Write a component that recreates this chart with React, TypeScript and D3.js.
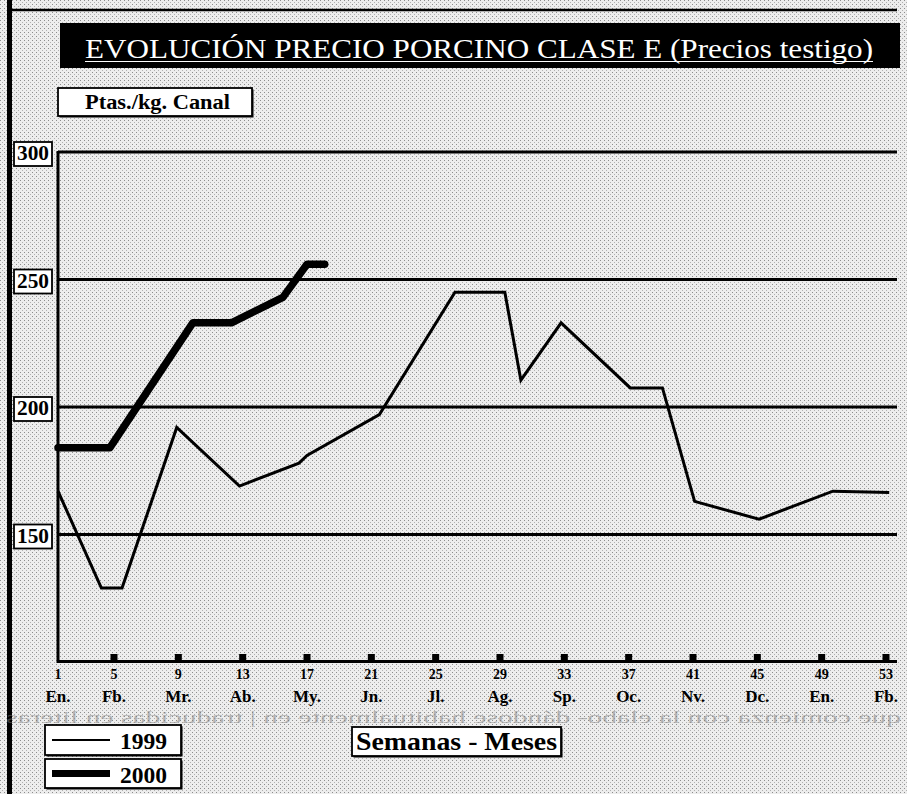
import * as d3 from "d3";
import { useEffect, useRef } from "react";

// semanas de referencia y meses del eje x
const weekTicks: number[] = [1, 5, 9, 13, 17, 21, 25, 29, 33, 37, 41, 45, 49, 53];
const monthLabels: string[] = ["En.", "Fb.", "Mr.", "Ab.", "My.", "Jn.", "Jl.", "Ag.", "Sp.", "Oc.", "Nv.", "Dc.", "En.", "Fb."];
const yTicks: number[] = [150, 200, 250, 300];

// 1999: [semana, ptas/kg]
const weeks1999: number[] = [1, 4.1, 5.5, 8.9, 12.8, 16.5, 17, 21.5, 26.2, 29.3, 30.3, 32.8, 37.1, 39.1, 41.1, 45.1, 49.7, 53.2];
const prices1999: number[] = [167, 129, 129, 192, 169, 178, 181, 197, 245, 245, 210.5, 233, 207.5, 207.5, 163, 156, 167, 166.5];

// 2000
const weeks2000: number[] = [1, 4.7, 9.9, 12.3, 15.5, 17, 18.1];
const prices2000: number[] = [184, 184, 233, 233, 243, 256, 256];

const title = "EVOLUCIÓN PRECIO PORCINO CLASE E (Precios testigo)";
const bleedText = "que comienza con la elabo-      dándose habitualmente en  |  traducidas  en  literas";

export default function App() {
  const width = 907;
  const height = 794;
  const svgRef = useRef<SVGSVGElement>(null);

  useEffect(() => {
    const svg = d3.select(svgRef.current);
    svg.selectAll("*").remove();

    const x = d3.scaleLinear([1, 5, 53], [58, 114, 886]);
    const y = d3.scaleLinear([100, 300], [662, 152]);
    const serif = "'Liberation Serif', 'DejaVu Serif', serif";

    // fondo tramado
    const defs = svg.append("defs");
    const pat = defs.append("pattern")
      .attr("id", "half")
      .attr("width", 4)
      .attr("height", 4)
      .attr("patternUnits", "userSpaceOnUse");
    pat.append("rect").attr("width", 4).attr("height", 4).attr("fill", "#ededed");
    pat.append("rect").attr("x", 0).attr("y", 0).attr("width", 1).attr("height", 1).attr("fill", "#8c8c8c");
    pat.append("rect").attr("x", 2).attr("y", 2).attr("width", 1).attr("height", 1).attr("fill", "#b0b0b0");

    svg.append("rect").attr("width", width).attr("height", height).attr("fill", "url(#half)");

    // bordes
    svg.append("rect").attr("x", 7).attr("y", 0).attr("width", 5).attr("height", height).attr("fill", "#000");
    svg.append("line")
      .attr("x1", 7).attr("x2", 897).attr("y1", 10).attr("y2", 10)
      .attr("stroke", "#000").attr("stroke-width", 2.5);

    // titulo
    svg.append("rect").attr("x", 60).attr("y", 23).attr("width", 840).attr("height", 45).attr("fill", "#000");
    svg.append("text")
      .attr("x", 85).attr("y", 58)
      .attr("fill", "#fff")
      .attr("font-family", serif)
      .attr("font-size", 27)
      .attr("textLength", 788)
      .attr("lengthAdjust", "spacingAndGlyphs")
      .text(title);
    svg.append("line")
      .attr("x1", 85).attr("x2", 873).attr("y1", 61.5).attr("y2", 61.5)
      .attr("stroke", "#fff").attr("stroke-width", 1.2);

    // caja con sombra
    const box = (bx: number, by: number, bw: number, bh: number) => {
      svg.append("rect").attr("x", bx + 1.5).attr("y", by + 1.5).attr("width", bw).attr("height", bh).attr("fill", "#000");
      svg.append("rect").attr("x", bx).attr("y", by).attr("width", bw).attr("height", bh)
        .attr("fill", "#fff").attr("stroke", "#000").attr("stroke-width", 1.8);
    };

    box(58, 88, 194, 28);
    svg.append("text")
      .attr("x", 85).attr("y", 109)
      .attr("font-family", serif).attr("font-weight", "bold").attr("font-size", 20)
      .attr("textLength", 145).attr("lengthAdjust", "spacingAndGlyphs")
      .text("Ptas./kg. Canal");

    // rejilla
    svg.append("g")
      .selectAll("line")
      .data(yTicks)
      .join("line")
      .attr("x1", 58).attr("x2", 897)
      .attr("y1", d => y(d)).attr("y2", d => y(d))
      .attr("stroke", "#000").attr("stroke-width", 3);

    // etiquetas eje y
    const yl = svg.append("g").selectAll("g").data(yTicks).join("g")
      .attr("transform", d => `translate(0,${y(d)})`);
    yl.append("rect").attr("x", 14).attr("y", -10).attr("width", 38).attr("height", 24)
      .attr("fill", "#fff").attr("stroke", "#000").attr("stroke-width", 1.8);
    yl.append("text")
      .attr("x", 33).attr("y", 8)
      .attr("text-anchor", "middle")
      .attr("font-family", serif).attr("font-weight", "bold").attr("font-size", 20)
      .attr("textLength", 32).attr("lengthAdjust", "spacingAndGlyphs")
      .text(d => d);

    // ejes
    svg.append("line").attr("x1", 58).attr("x2", 58).attr("y1", 151).attr("y2", 663)
      .attr("stroke", "#000").attr("stroke-width", 3);
    svg.append("line").attr("x1", 57).attr("x2", 897).attr("y1", 661.5).attr("y2", 661.5)
      .attr("stroke", "#000").attr("stroke-width", 3);

    // marcas
    svg.append("g").selectAll("rect").data(weekTicks.slice(1)).join("rect")
      .attr("x", d => x(d) - 3.5).attr("y", 654).attr("width", 7).attr("height", 7)
      .attr("fill", "#000");

    svg.append("g").selectAll("text").data(weekTicks).join("text")
      .attr("x", d => x(d)).attr("y", 679)
      .attr("text-anchor", "middle")
      .attr("font-family", serif).attr("font-weight", "bold").attr("font-size", 14)
      .text(d => d);

    svg.append("g").selectAll("text").data(monthLabels).join("text")
      .attr("x", (d, i) => x(weekTicks[i])).attr("y", 702)
      .attr("text-anchor", "middle")
      .attr("font-family", serif).attr("font-weight", "bold").attr("font-size", 17)
      .text(d => d);

    // texto del reverso de la pagina
    svg.append("g")
      .attr("transform", `translate(${width},0) scale(-1,1)`)
      .append("text")
      .attr("x", 6).attr("y", 723)
      .attr("fill", "#7a7a7a")
      .attr("font-family", serif).attr("font-size", 17)
      .attr("textLength", 895).attr("lengthAdjust", "spacingAndGlyphs")
      .attr("opacity", 0.5)
      .text(bleedText);

    // series
    const line = d3.line<[number, number]>(d => x(d[0]), d => y(d[1]));
    const s1999: [number, number][] = weeks1999.map((w, i) => [w, prices1999[i]]);
    const s2000: [number, number][] = weeks2000.map((w, i) => [w, prices2000[i]]);

    svg.append("path")
      .attr("d", line(s1999))
      .attr("fill", "none").attr("stroke", "#000").attr("stroke-width", 3)
      .attr("stroke-linejoin", "miter");

    svg.append("path")
      .attr("d", line(s2000))
      .attr("fill", "none").attr("stroke", "#000").attr("stroke-width", 7.5)
      .attr("stroke-linejoin", "round").attr("stroke-linecap", "round");

    // leyenda
    box(45, 725, 136, 30);
    svg.append("line").attr("x1", 52).attr("x2", 110).attr("y1", 740).attr("y2", 740)
      .attr("stroke", "#000").attr("stroke-width", 2);
    svg.append("text").attr("x", 120).attr("y", 749)
      .attr("font-family", serif).attr("font-weight", "bold").attr("font-size", 24)
      .attr("textLength", 47).attr("lengthAdjust", "spacingAndGlyphs")
      .text("1999");

    box(45, 759, 136, 29);
    svg.append("line").attr("x1", 52).attr("x2", 110).attr("y1", 773.5).attr("y2", 773.5)
      .attr("stroke", "#000").attr("stroke-width", 7);
    svg.append("text").attr("x", 120).attr("y", 783)
      .attr("font-family", serif).attr("font-weight", "bold").attr("font-size", 24)
      .attr("textLength", 47).attr("lengthAdjust", "spacingAndGlyphs")
      .text("2000");

    box(352, 727, 209, 29);
    svg.append("text").attr("x", 356).attr("y", 750)
      .attr("font-family", serif).attr("font-weight", "bold").attr("font-size", 25)
      .attr("textLength", 201).attr("lengthAdjust", "spacingAndGlyphs")
      .text("Semanas - Meses");
  }, []);

  return (
    <svg
      ref={svgRef}
      width={width}
      height={height}
      style={{ position: "absolute", left: 0, top: 0 }}
      xmlns="http://www.w3.org/2000/svg"
    />
  );
}
